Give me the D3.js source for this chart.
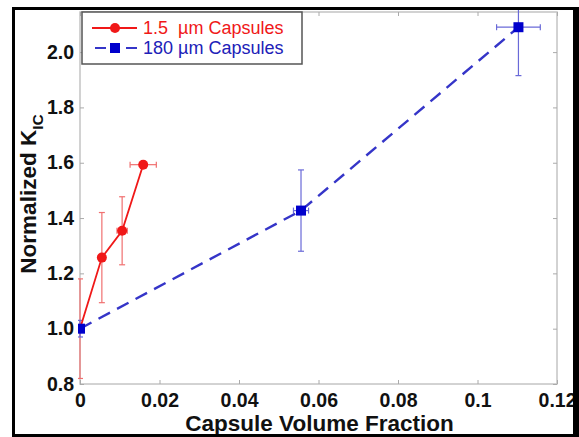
<!DOCTYPE html>
<html>
<head>
<meta charset="utf-8">
<script src="https://cdn.jsdelivr.net/npm/d3@7"></script>
<style>
  body { margin: 0; background: #fff; }
  svg { display: block; font-family: "Liberation Sans", Arial, sans-serif; }
  .tick text { font-weight: bold; font-size: 19.5px; fill: #111; }
</style>
</head>
<body>
<div id="chart"></div>
<script>
// legend names
var seriesNames = ["1.5\u00a0 \u00b5m Capsules", "180 \u00b5m Capsules"];

// 1.5 um capsules
var smallX = [0, 0.0055, 0.0106, 0.0159];
var smallY = [1.0, 1.257, 1.354, 1.593];
var smallYErr = [0.18, 0.163, 0.123, 0.012];
var smallXErr = [0, 0, 0.0013, 0.0033];

// 180 um capsules
var bigX = [0, 0.0556, 0.1103];
var bigY = [1.0, 1.427, 2.09];
var bigYErr = [0.03, 0.147, 0.175];
var bigXErr = [0, 0.0019, 0.0055];

var xTicks = [0, 0.02, 0.04, 0.06, 0.08, 0.1, 0.12];
var yTicks = [0.8, 1.0, 1.2, 1.4, 1.6, 1.8, 2.0];

var width = 579, height = 437;
var margin = { top: 12, right: 22, bottom: 53, left: 80 };
var w = width - margin.left - margin.right,
    h = height - margin.top - margin.bottom;

var red = "#f01818", redLight = "#f07070";
var blue = "#0000cc", blueLine = "#3535c8", blueLight = "#6a6ad8";

var svg = d3.select("#chart").append("svg")
  .attr("width", width)
  .attr("height", height);

var g = svg.append("g")
  .attr("transform", "translate(" + margin.left + "," + margin.top + ")");

var x = d3.scaleLinear().domain([0, 0.12]).range([0, w]);
var y = d3.scaleLinear().domain([0.8, 2.145]).range([h, 0]);

// plot box
g.append("rect")
  .attr("width", w).attr("height", h)
  .attr("fill", "none")
  .attr("stroke", "#c4c4c4")
  .attr("stroke-width", 1.5);

function styleAxis(sel) {
  sel.select(".domain").remove();
  sel.selectAll(".tick line").attr("stroke", "#aaa");
}

g.append("g")
  .attr("transform", "translate(0," + h + ")")
  .call(d3.axisBottom(x).tickValues(xTicks).tickSizeInner(-4).tickSizeOuter(0).tickPadding(9)
    .tickFormat(function(d) { return d === 0 ? "0" : d3.format("")(+d.toFixed(2)); }))
  .call(styleAxis);

g.append("g")
  .call(d3.axisTop(x).tickValues(xTicks).tickSizeInner(-4).tickSizeOuter(0).tickFormat(""))
  .call(styleAxis);

g.append("g")
  .call(d3.axisLeft(y).tickValues(yTicks).tickSizeInner(-4).tickSizeOuter(0).tickPadding(6)
    .tickFormat(d3.format(".1f")))
  .call(styleAxis);

g.append("g")
  .attr("transform", "translate(" + w + ",0)")
  .call(d3.axisRight(y).tickValues(yTicks).tickSizeInner(-4).tickSizeOuter(0).tickFormat(""))
  .call(styleAxis);

svg.append("clipPath").attr("id", "clip")
  .append("rect").attr("x", -2).attr("y", -3).attr("width", w + 4).attr("height", h + 5);

var plot = g.append("g").attr("clip-path", "url(#clip)");

function drawErrors(xs, ys, xe, ye, color) {
  var cap = 3;
  var eb = plot.append("g").attr("stroke", color).attr("stroke-width", 1.2).attr("fill", "none");
  xs.forEach(function(xv, i) {
    var cx = x(xv), cy = y(ys[i]);
    if (ye[i] > 0) {
      var y0 = y(ys[i] - ye[i]), y1 = y(ys[i] + ye[i]);
      eb.append("line").attr("x1", cx).attr("x2", cx).attr("y1", y0).attr("y2", y1);
      eb.append("line").attr("x1", cx - cap).attr("x2", cx + cap).attr("y1", y0).attr("y2", y0);
      eb.append("line").attr("x1", cx - cap).attr("x2", cx + cap).attr("y1", y1).attr("y2", y1);
    }
    if (xe[i] > 0) {
      var x0 = x(xv - xe[i]), x1 = x(xv + xe[i]);
      eb.append("line").attr("x1", x0).attr("x2", x1).attr("y1", cy).attr("y2", cy);
      eb.append("line").attr("x1", x0).attr("x2", x0).attr("y1", cy - cap).attr("y2", cy + cap);
      eb.append("line").attr("x1", x1).attr("x2", x1).attr("y1", cy - cap).attr("y2", cy + cap);
    }
  });
}

drawErrors(smallX, smallY, smallXErr, smallYErr, redLight);
drawErrors(bigX, bigY, bigXErr, bigYErr, blueLight);

var line = d3.line().x(function(d) { return x(d[0]); }).y(function(d) { return y(d[1]); });

plot.append("path")
  .datum(d3.zip(smallX, smallY))
  .attr("d", line)
  .attr("fill", "none")
  .attr("stroke", red)
  .attr("stroke-width", 1.8);

plot.append("path")
  .datum(d3.zip(bigX, bigY))
  .attr("d", line)
  .attr("fill", "none")
  .attr("stroke", blueLine)
  .attr("stroke-width", 2.4)
  .attr("stroke-dasharray", "13,8");

plot.selectAll(".sq")
  .data(d3.zip(bigX, bigY))
  .enter().append("rect")
  .attr("class", "sq")
  .attr("x", function(d) { return x(d[0]) - 5; })
  .attr("y", function(d) { return y(d[1]) - 5; })
  .attr("width", 10).attr("height", 10)
  .attr("fill", blue);

plot.selectAll(".dot")
  .data(d3.zip(smallX, smallY).slice(1))
  .enter().append("circle")
  .attr("class", "dot")
  .attr("cx", function(d) { return x(d[0]); })
  .attr("cy", function(d) { return y(d[1]); })
  .attr("r", 5)
  .attr("fill", red);

// legend
var lg = svg.append("g").attr("transform", "translate(82,12)");
lg.append("rect")
  .attr("width", 220).attr("height", 52)
  .attr("fill", "#fff")
  .attr("stroke", "#555").attr("stroke-width", 1.5);

lg.append("line").attr("x1", 10).attr("x2", 55).attr("y1", 16).attr("y2", 16)
  .attr("stroke", red).attr("stroke-width", 1.8);
lg.append("circle").attr("cx", 33).attr("cy", 16).attr("r", 5).attr("fill", red);
lg.append("text").attr("x", 61).attr("y", 22)
  .attr("font-size", 18).attr("fill", red).text(seriesNames[0]);

lg.append("line").attr("x1", 13).attr("x2", 55).attr("y1", 36).attr("y2", 36)
  .attr("stroke", blueLine).attr("stroke-width", 2.2).attr("stroke-dasharray", "11,20");
lg.append("rect").attr("x", 28).attr("y", 31).attr("width", 10).attr("height", 10).attr("fill", blue);
lg.append("text").attr("x", 61).attr("y", 42)
  .attr("font-size", 18).attr("fill", "#2020b8").text(seriesNames[1]);

// axis labels
svg.append("text")
  .attr("x", margin.left + w / 2 + 1)
  .attr("y", 431)
  .attr("text-anchor", "middle")
  .attr("font-size", 22.5)
  .attr("font-weight", "bold")
  .attr("fill", "#111")
  .text("Capsule Volume Fraction");

var yl = svg.append("text")
  .attr("transform", "translate(36,194) rotate(-90)")
  .attr("text-anchor", "middle")
  .attr("font-size", 22.5)
  .attr("font-weight", "bold")
  .attr("fill", "#111");
yl.append("tspan").text("Normalized K");
yl.append("tspan").attr("font-size", 15.5).attr("dy", 7).text("IC");

// outer black frame
var frame = svg.append("g").attr("fill", "#000");
frame.append("rect").attr("x", 12).attr("y", 7).attr("width", 3).attr("height", 430);
frame.append("rect").attr("x", 12).attr("y", 7).attr("width", 567).attr("height", 3);
frame.append("rect").attr("x", 573).attr("y", 7).attr("width", 6).attr("height", 430);
frame.append("rect").attr("x", 12).attr("y", 434).attr("width", 567).attr("height", 3);
</script>
</body>
</html>
